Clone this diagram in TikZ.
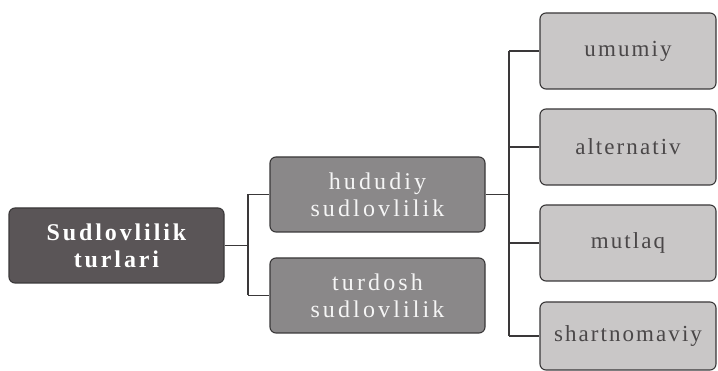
\documentclass[tikz,border=0pt]{standalone}
\usepackage{fontspec}
\setmainfont{Liberation Serif}
\newfontfamily\spacedfontl[LetterSpace=12]{Liberation Serif}
\newfontfamily\spacedfont[LetterSpace=13]{Liberation Serif}
\newfontfamily\spacedfontr[LetterSpace=9]{Liberation Serif}
\definecolor{darkbox}{HTML}{5A5557}
\definecolor{midbox}{HTML}{8A8889}
\definecolor{lightbox}{HTML}{C9C7C7}
\definecolor{edge}{HTML}{3A3839}
\definecolor{darktext}{HTML}{4A4748}
\begin{document}
\begin{tikzpicture}[x=1pt,y=-1pt,
  base/.style={rounded corners=6pt, draw=edge, line width=1.1pt, align=center, inner sep=0pt},
  leftbox/.style={base, fill=darkbox, text=white, minimum width=215pt, minimum height=75pt,
    font=\spacedfontl\fontsize{24}{27}\selectfont\bfseries},
  midbox/.style={base, fill=midbox, text=white!92!gray, minimum width=215pt, minimum height=75pt,
    font=\spacedfont\fontsize{24}{27}\selectfont},
  rightbox/.style={base, fill=lightbox, text=darktext, minimum width=176pt, minimum height=76pt,
    font=\spacedfontr\fontsize{23}{26}\selectfont},
  conn/.style={draw=edge, line width=1.1pt}]
\useasboundingbox (0,0) rectangle (718,371);
\fill[white] (0,0) rectangle (718,371);

\node[leftbox] (L) at (116.5,245.5) {Sudlovlilik\\turlari};
\node[midbox] (M1) at (377.5,194.5) {hududiy\\sudlovlilik};
\node[midbox] (M2) at (377.5,295.5) {turdosh\\sudlovlilik};
\node[rightbox] (R1) at (628,51) {umumiy};
\node[rightbox] (R2) at (628,147) {alternativ};
\node[rightbox] (R3) at (628,243) {mutlaq};
\node[rightbox, minimum height=68pt] (R4) at (628,336) {shartnomaviy};

\coordinate (j1) at (248,245.5);
\coordinate (j2) at (509,194.5);

\draw[conn] (L.east) -- (L.east -| j1);
\draw[conn] (j1 |- M1.west) -- (j1 |- M2.west);
\draw[conn] (j1 |- M1.west) -- (M1.west);
\draw[conn] (j1 |- M2.west) -- (M2.west);

\draw[conn] (M1.east) -- (M1.east -| j2);
\draw[conn] (j2 |- R1.west) -- (j2 |- R4.west);
\draw[conn] (j2 |- R1.west) -- (R1.west);
\draw[conn] (j2 |- R2.west) -- (R2.west);
\draw[conn] (j2 |- R3.west) -- (R3.west);
\draw[conn] (j2 |- R4.west) -- (R4.west);
\end{tikzpicture}
\end{document}
